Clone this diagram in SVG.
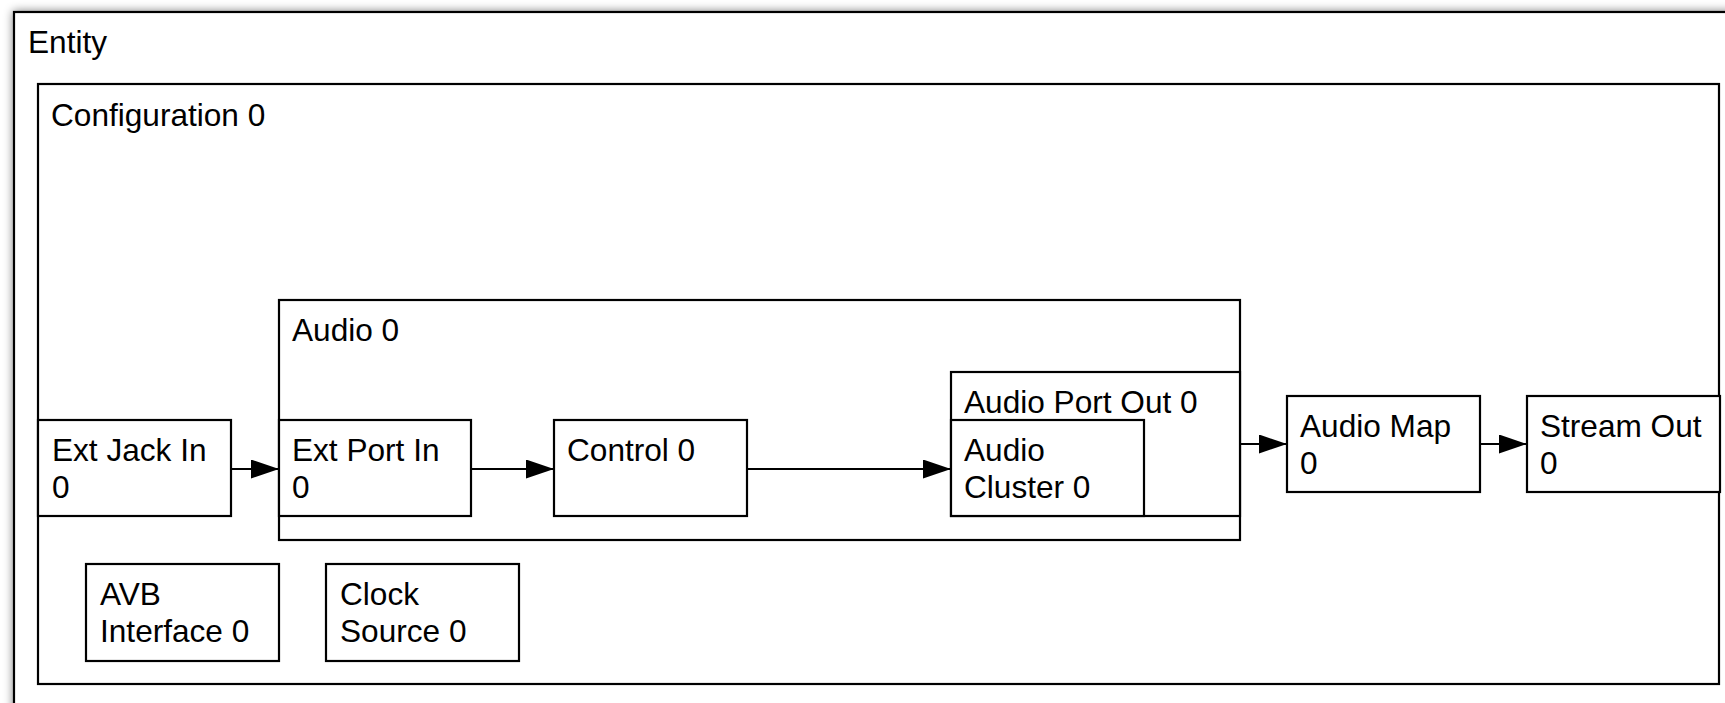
<svg xmlns="http://www.w3.org/2000/svg" width="1725" height="703" viewBox="0 0 1725 703">
<style>
.box{fill:#fff;stroke:#000;stroke-width:2.2}
.lbl{font-family:"Liberation Sans",Arial,Helvetica,sans-serif;font-size:31.6px;fill:#000}
.edge{fill:none;stroke:#000;stroke-width:2.2}
</style>
<defs>
<filter id="sh" x="-5%" y="-5%" width="110%" height="110%">
<feGaussianBlur in="SourceAlpha" stdDeviation="5"/>
<feComponentTransfer><feFuncA type="linear" slope="0.5"/></feComponentTransfer>
<feMerge><feMergeNode/><feMergeNode in="SourceGraphic"/></feMerge>
</filter>
<marker id="arr" markerUnits="userSpaceOnUse" markerWidth="30" markerHeight="20" refX="28" refY="9.5" orient="auto">
<path d="M0,0 L28,9.5 L0,19 Z" fill="#000"/>
</marker>
</defs>
<rect width="1725" height="703" fill="#fff"/>
<g id="entity">
<rect class="box" x="14" y="12" width="1740" height="720" filter="url(#sh)"/>
<text class="lbl" x="28" y="53">Entity</text>
</g>
<g id="configuration0">
<rect class="box" x="38" y="84" width="1681" height="600"/>
<text class="lbl" x="51" y="126">Configuration 0</text>
</g>
<g id="audio0">
<rect class="box" x="279" y="300" width="961" height="240"/>
<text class="lbl" x="292" y="341">Audio 0</text>
</g>
<g id="extJackIn0">
<rect class="box" x="38" y="420" width="193" height="96"/>
<text class="lbl" x="52" y="461">Ext Jack In</text>
<text class="lbl" x="52" y="498">0</text>
</g>
<g id="extPortIn0">
<rect class="box" x="279" y="420" width="192" height="96"/>
<text class="lbl" x="292" y="461">Ext Port In</text>
<text class="lbl" x="292" y="498">0</text>
</g>
<g id="control0">
<rect class="box" x="554" y="420" width="193" height="96"/>
<text class="lbl" x="567" y="461">Control 0</text>
</g>
<g id="audioPortOut0">
<rect class="box" x="951" y="372" width="289" height="144"/>
<text class="lbl" x="964" y="413">Audio Port Out 0</text>
</g>
<g id="audioCluster0">
<rect class="box" x="951" y="420" width="193" height="96"/>
<text class="lbl" x="964" y="461">Audio</text>
<text class="lbl" x="964" y="498">Cluster 0</text>
</g>
<g id="audioMap0">
<rect class="box" x="1287" y="396" width="193" height="96"/>
<text class="lbl" x="1300" y="437">Audio Map</text>
<text class="lbl" x="1300" y="474">0</text>
</g>
<g id="streamOut0">
<rect class="box" x="1527" y="396" width="193" height="96"/>
<text class="lbl" x="1540" y="437">Stream Out</text>
<text class="lbl" x="1540" y="474">0</text>
</g>
<g id="avbInterface0">
<rect class="box" x="86" y="564" width="193" height="97"/>
<text class="lbl" x="100" y="605">AVB</text>
<text class="lbl" x="100" y="642">Interface 0</text>
</g>
<g id="clockSource0">
<rect class="box" x="326" y="564" width="193" height="97"/>
<text class="lbl" x="340" y="605">Clock</text>
<text class="lbl" x="340" y="642">Source 0</text>
</g>
<g id="connectors">
<line class="edge" x1="231" y1="469" x2="279" y2="469" marker-end="url(#arr)"/>
<line class="edge" x1="471" y1="469" x2="554" y2="469" marker-end="url(#arr)"/>
<line class="edge" x1="747" y1="469" x2="951" y2="469" marker-end="url(#arr)"/>
<line class="edge" x1="1240" y1="444" x2="1287" y2="444" marker-end="url(#arr)"/>
<line class="edge" x1="1480" y1="444" x2="1527" y2="444" marker-end="url(#arr)"/>
</g>
</svg>
